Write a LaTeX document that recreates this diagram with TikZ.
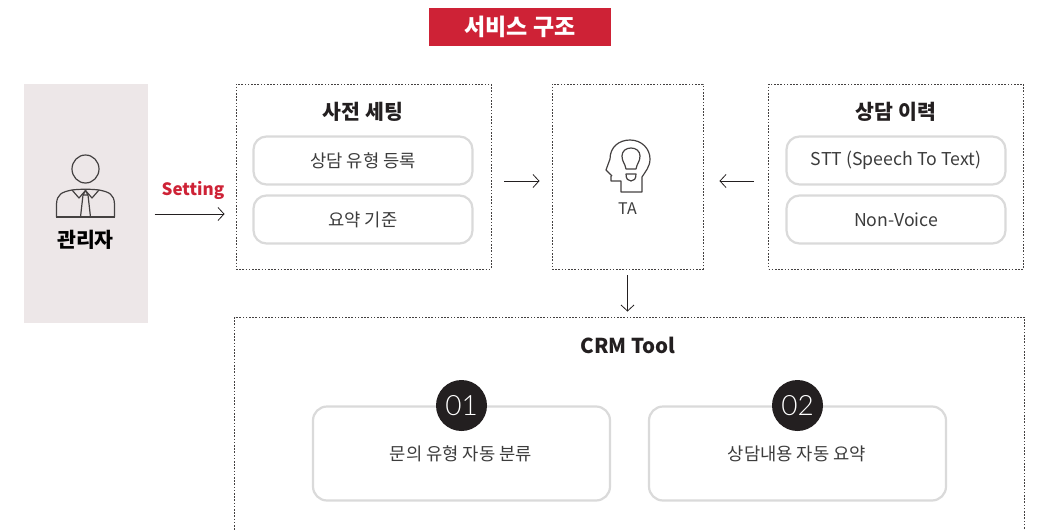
\documentclass[tikz,border=0pt]{standalone}
\usepackage{fontspec}
\setmainfont{Noto Sans CJK KR}
\newfontfamily\thinfont{Lato Light}
\usetikzlibrary{arrows.meta}
\definecolor{brandred}{HTML}{CE2236}
\definecolor{panelgray}{HTML}{EDE7E8}
\definecolor{pillgray}{HTML}{DADADA}
\definecolor{inkdark}{HTML}{231F20}
\definecolor{inktext}{HTML}{3C3C3C}
\tikzset{
  dotbox/.style={draw=inkdark!85, dash pattern=on 1.6pt off 1.6pt, line width=0.9pt, minimum height=#1},
  pill/.style={draw=pillgray, line width=2.2pt, rounded corners=13pt, fill=white, minimum width=219pt, minimum height=48pt, text=inktext, font=\fontsize{17.7}{20}\selectfont},
  card/.style={draw=pillgray, line width=2.2pt, rounded corners=14pt, fill=white, minimum width=297pt, minimum height=94pt},
  badge/.style={circle, fill=inkdark, text=white, minimum size=51pt, inner sep=0pt, font=\fontsize{28}{30}\selectfont\thinfont},
  heading/.style={text=inkdark, font=\fontsize{20.5}{24}\selectfont\bfseries},
  bodytext/.style={text=inktext, font=\fontsize{17.7}{20}\selectfont},
  flow/.style={-{Straight Barb[length=6pt,width=13pt]}, draw=inkdark, line width=0.8pt},
  icon/.style={draw=inkdark!85, line width=1.2pt, line join=round}
}
\begin{document}
\begin{tikzpicture}[x=1pt,y=-1pt,inner sep=0pt]
  \useasboundingbox (0,0) rectangle (1047,530);
  \clip (0,0) rectangle (1047,530);
  % title
  \node[fill=brandred, text=white, minimum width=182pt, minimum height=38pt, font=\fontsize{23}{26}\selectfont\bfseries] (title) at (520,27) {서비스 구조};
  % left panel
  \node[fill=panelgray, minimum width=124pt, minimum height=239pt] (admin) at (85.5,203.5) {};
  \node[font=\fontsize{20.5}{24}\selectfont\bfseries, text=black] (adminlabel) at (85.5,240) {관리자};
  \draw[icon] (85.5,169) ellipse (13.5 and 14);
  \draw[icon] (56,217) -- (115,217);
  \draw[icon] (56.5,217) -- (56.5,204) .. controls (57,194) and (62,192) .. (72,190) .. controls (80,189) and (91,189) .. (99,190) .. controls (109,192) and (114,194) .. (114.5,204) -- (114.5,217);
  \draw[icon] (72,190) -- (79,198) -- (85.5,190.5) -- (92,198) -- (99,190);
  \draw[icon] (83,195) -- (80.5,217) (88,195) -- (90.5,217) (83,195) -- (85.5,190.5) -- (88,195) -- cycle;
  % dotted boxes
  \node[dotbox=185pt, minimum width=255pt] (setup) at (363.5,176.5) {};
  \node[dotbox=185pt, minimum width=151pt] (ta) at (627.5,176.5) {};
  \node[dotbox=185pt, minimum width=255pt] (history) at (896,176.5) {};
  \node[dotbox=260pt, minimum width=790pt] (crm) at (629.5,447) {};
  \node[heading] (setuptitle) at (363,112) {사전 세팅};
  \node[heading] (historytitle) at (896,112) {상담 이력};
  \node[heading] (crmtitle) at (628,345) {CRM Tool};
  \node[pill] (setupone) at (363,160.5) {상담 유형 등록};
  \node[pill] (setuptwo) at (363,219.5) {요약 기준};
  \node[pill] (historyone) at (896,160.5) {STT (Speech To Text)};
  \node[pill] (historytwo) at (896,219.5) {Non-Voice};
  % TA icon
  \draw[icon] (612,176) -- (606,170) -- (610,159) .. controls (610,147) and (619,140) .. (630,140) .. controls (642,140) and (650,149) .. (650,159) .. controls (650,167) and (645,172) .. (642,177) -- (642,192) -- (621,192) -- (621,181) -- (611,181) -- (611,176);
  \draw[icon] (626,169) .. controls (625,163) and (622,162) .. (622,156) .. controls (622,151) and (626,148) .. (631,148) .. controls (636,148) and (640,151) .. (640,156) .. controls (640,162) and (637,163) .. (636,169) -- cycle;
  \draw[icon] (626,174) -- (636,174) .. controls (636,179) and (634,181) .. (631,181) .. controls (628,181) and (626,179) .. (626,174) -- cycle;
  \node[bodytext, font=\fontsize{16}{18}\selectfont] (talabel) at (627.5,208.5) {TA};
  % cards
  \node[card] (cardone) at (461.5,453.5) {};
  \node[card] (cardtwo) at (797.5,453.5) {};
  \node[bodytext] (cardonetext) at (461,453.5) {문의 유형 자동 분류};
  \node[bodytext] (cardtwotext) at (797,453.5) {상담내용 자동 요약};
  \node[badge] (badgeone) at (461.5,405.5) {01};
  \node[badge] (badgetwo) at (797.5,405.5) {02};
  % arrows
  \node[text=brandred, font=\fontsize{17}{20}\selectfont\bfseries] (settinglabel) at (193,190.5) {Setting};
  \draw[flow, shorten <=7pt, shorten >=11pt] ([yshift=-10.5pt]admin.east) -- ([yshift=-37.5pt]setup.west);
  \draw[flow, shorten <=13pt, shorten >=12pt] ([yshift=-4.5pt]setup.east) -- ([yshift=-4.5pt]ta.west);
  \draw[flow, shorten <=14pt, shorten >=16pt] ([yshift=-4.5pt]history.west) -- ([yshift=-4.5pt]ta.east);
  \draw[flow, shorten <=6pt, shorten >=5pt] (ta.south) -- (ta.south |- crm.north);
\end{tikzpicture}
\end{document}
